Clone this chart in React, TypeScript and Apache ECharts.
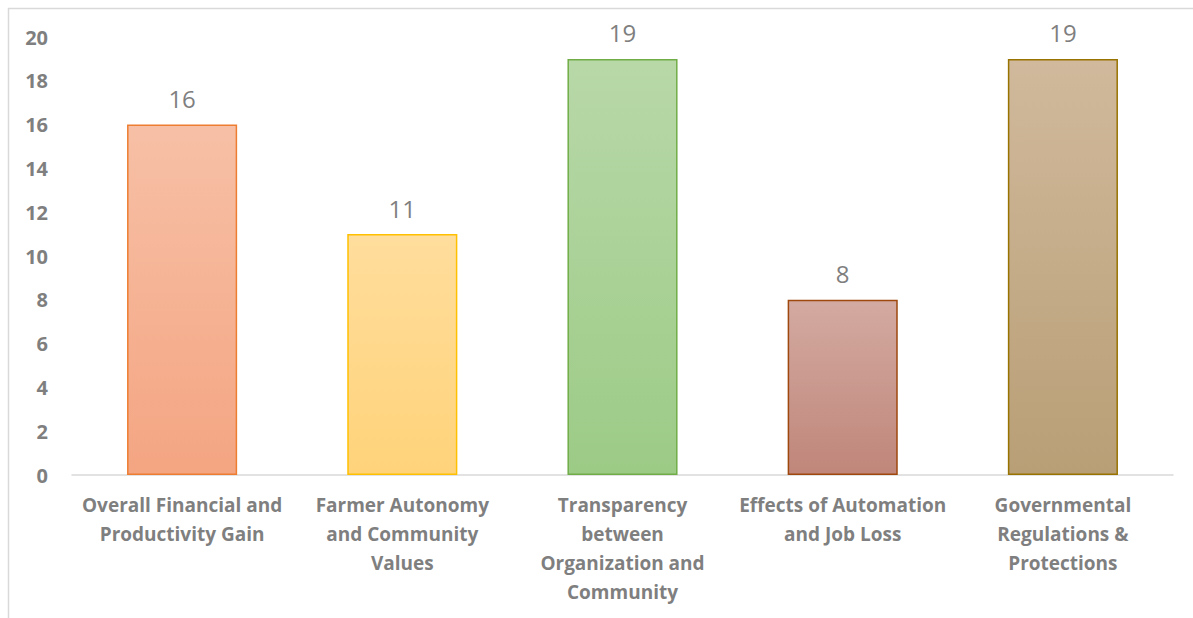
import React, { useEffect, useRef } from "react";
import * as echarts from "echarts";

const categories = [
  "Overall Financial and\nProductivity Gain",
  "Farmer Autonomy\nand Community\nValues",
  "Transparency\nbetween\nOrganization and\nCommunity",
  "Effects of Automation\nand Job Loss",
  "Governmental\nRegulations &\nProtections",
];
const values = [16, 11, 19, 8, 19];
const fillTop = ["#f7c0a6", "#ffdd9c", "#b8d8a8", "#d3aaa1", "#d0b99c"];
const fillBottom = ["#f4a582", "#ffd37a", "#9ccb86", "#c0867a", "#b99f76"];
const borders = ["#ed7d31", "#ffc000", "#70ad47", "#9e480e", "#997300"];

export default function App() {
  const ref = useRef<HTMLDivElement>(null);
  useEffect(() => {
    const chart = echarts.init(ref.current!, null, { renderer: "svg" });
    chart.setOption({
      animation: false,
      backgroundColor: "#ffffff",
      graphic: [
        { type: "line", shape: { x1: 8, y1: 8.5, x2: 1193, y2: 8.5 }, style: { stroke: "#d9d9d9", lineWidth: 1.5 } },
        { type: "line", shape: { x1: 8.5, y1: 8, x2: 8.5, y2: 618 }, style: { stroke: "#d9d9d9", lineWidth: 1.5 } },
      ],
      grid: { left: 72, right: 20, top: 37, bottom: 143, containLabel: false },
      xAxis: {
        type: "category",
        data: categories,
        axisLine: { lineStyle: { color: "#d9d9d9", width: 1.5 } },
        axisTick: { show: false },
        axisLabel: {
          interval: 0,
          color: "#7f7f7f",
          fontFamily: "Open Sans",
          fontWeight: "bold",
          fontSize: 19,
          lineHeight: 29,
          margin: 15,
        },
      },
      yAxis: {
        type: "value",
        min: 0,
        max: 20,
        interval: 2,
        splitLine: { show: false },
        axisLine: { show: false },
        axisTick: { show: false },
        axisLabel: {
          color: "#7f7f7f",
          fontFamily: "Open Sans",
          fontWeight: "bold",
          fontSize: 20,
          margin: 24,
        },
      },
      series: [
        {
          type: "bar",
          barWidth: "50%",
          data: values.map((v, i) => ({
            value: v,
            itemStyle: {
              color: new echarts.graphic.LinearGradient(0, 0, 0, 1, [
                { offset: 0, color: fillTop[i] },
                { offset: 1, color: fillBottom[i] },
              ]),
              borderColor: borders[i],
              borderWidth: 1.5,
            },
          })),
          label: {
            show: true,
            position: "top",
            distance: 14,
            color: "#7f7f7f",
            fontFamily: "Open Sans",
            fontSize: 24,
          },
        },
      ],
    });
    return () => chart.dispose();
  }, []);
  return (
    <div
      ref={ref}
      style={{ position: "fixed", left: 0, top: 0, width: 1193, height: 618 }}
    />
  );
}
